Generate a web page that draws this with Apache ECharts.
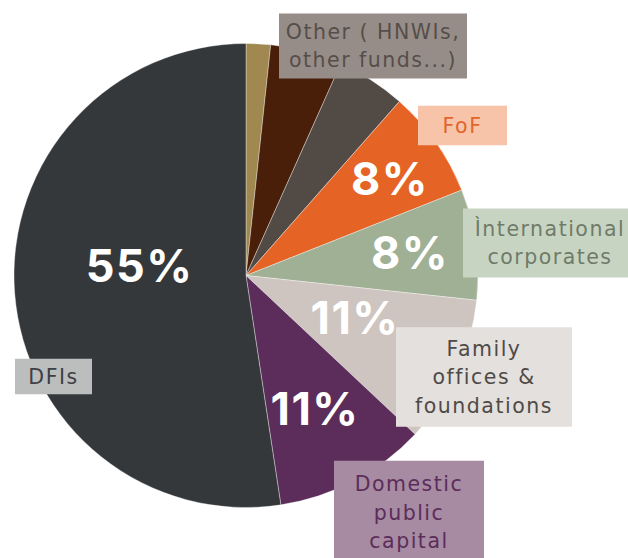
<!DOCTYPE html>
<html>
<head>
<meta charset="utf-8">
<script src="https://cdn.jsdelivr.net/npm/echarts@6/dist/echarts.min.js"></script>
<style>
  html, body { margin: 0; padding: 0; background: #fff; }
  #chart { width: 628px; height: 558px; }
  /* the original labels are set wide, widen the svg text a little */
  #chart text { letter-spacing: 1.5px; }
</style>
</head>
<body>
<div id="chart"></div>
<script>
const names = ['', '', 'Other ( HNWIs,\nother funds...)', 'FoF', 'Ìnternational\ncorporates',
  'Family\noffices &\nfoundations', 'Domestic\npublic\ncapital', 'DFIs'];
const values = [1.7, 5.0, 4.8, 7.5, 7.7, 10.3, 10.6, 52.4];
const pctLabels = ['', '', '', '8%', '8%', '11%', '11%', '55%'];

// Styles
const sliceColors = ['#a08850', '#4a1f0a', '#514a45', '#e56325', '#9fb095', '#cec5c0', '#5c2d5a', '#35383b'];
const boxColors = ['', '', '#968d88', '#f7c4aa', '#c8d4c2', '#e4e0dd', '#a68ba3', '#bcbebe'];
const boxText = ['', '', '#564e49', '#e2652a', '#6f7b69', '#4f4a46', '#5c2d5a', '#3d4044'];
// box centre, width, vertical padding
const boxLayout = [null, null, [373, 46, 188, 4], [462.5, 125.5, 89, 5.5], [550, 243, 174, 6],
  [484, 377, 176, 7], [409, 512.5, 150, 9], [53.5, 376.5, 77, 3.5]];
const pctPos = [null, null, null, [390, 178], [410, 252], [355, 317], [315, 408.5], [139.5, 265]];

const PCT_FONT = 'Inter, "Noto Sans", sans-serif';
const BOX_FONT = '"DejaVu Sans", sans-serif';

const chart = echarts.init(document.getElementById('chart'), null, { renderer: 'svg' });

const sliceData = values.map((v, i) => ({
    value: v,
    name: names[i] || ('s' + i),
    itemStyle: { color: sliceColors[i] },
    label: { show: !!pctLabels[i], formatter: pctLabels[i] }
}));

const boxData = values.map((v, i) => {
    const b = boxLayout[i];
    return {
        value: v,
        name: names[i] || ('s' + i),
        label: b ? {
            show: true,
            formatter: names[i],
            backgroundColor: boxColors[i],
            color: boxText[i],
            width: b[2],
            padding: [b[3], 0],
        } : { show: false }
    };
});

chart.setOption({
    animation: false,
    series: [
        {
            type: 'pie',
            center: [246, 275.5],
            radius: 232,
            startAngle: 90,
            clockwise: true,
            silent: true,
            itemStyle: { borderColor: 'rgba(255,255,255,0.6)', borderWidth: 0.6 },
            label: {
                position: 'inside',
                color: '#fff',
                fontFamily: PCT_FONT,
                fontWeight: 'bold',
                fontSize: 45
            },
            labelLine: { show: false },
            labelLayout: p => pctPos[p.dataIndex] ? { x: pctPos[p.dataIndex][0], y: pctPos[p.dataIndex][1] } : {},
            data: sliceData
        },
        {
            type: 'pie',
            center: [246, 275.5],
            radius: 232,
            startAngle: 90,
            clockwise: true,
            silent: true,
            itemStyle: { color: 'rgba(0,0,0,0)' },
            label: {
                position: 'inside',
                fontFamily: BOX_FONT,
                fontSize: 20.5,
                lineHeight: 28.5,
                align: 'center'
            },
            labelLine: { show: false },
            labelLayout: p => boxLayout[p.dataIndex] ? { x: boxLayout[p.dataIndex][0], y: boxLayout[p.dataIndex][1] } : {},
            data: boxData
        }
    ]
});
</script>
</body>
</html>
